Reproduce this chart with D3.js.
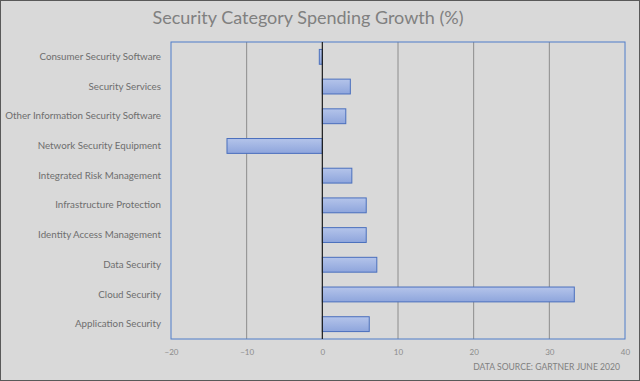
<!DOCTYPE html>
<html><head><meta charset="utf-8">
<script src="https://cdn.jsdelivr.net/npm/d3@7"></script>
<style>html,body{margin:0;padding:0;background:#d9d9d9;}svg{display:block;}</style>
</head><body>
<script>
const categories = ["Consumer Security Software","Security Services","Other Information Security Software","Network Security Equipment","Integrated Risk Management","Infrastructure Protection","Identity Access Management","Data Security","Cloud Security","Application Security"];
const growth = [-0.4, 3.7, 3.1, -12.6, 3.9, 5.8, 5.8, 7.2, 33.3, 6.2];
const xTicks = [-20, -10, 0, 10, 20, 30, 40];
const title = "Security Category Spending Growth (%)";
const source = "DATA SOURCE: GARTNER JUNE 2020";

const W = 640, H = 381;
const m = {left: 171, right: 15, top: 42, bottom: 42};
const svg = d3.select("body").append("svg").attr("width", W).attr("height", H);
const font = "Lato, 'Open Sans', sans-serif";

svg.append("rect").attr("x",0.5).attr("y",0.5).attr("width",W-1).attr("height",H-1)
  .attr("fill","#d9d9d9").attr("stroke","#595959").attr("stroke-width",1);

const defs = svg.append("defs");
const g = defs.append("linearGradient").attr("id","bg").attr("x1",0).attr("y1",0).attr("x2",0).attr("y2",1);
g.append("stop").attr("offset","0%").attr("stop-color","#b4c4ea");
g.append("stop").attr("offset","100%").attr("stop-color","#8ea5dc");

const x = d3.scaleLinear().domain([xTicks[0], xTicks[xTicks.length-1]]).range([m.left, W - m.right]);
const y = d3.scaleBand().domain(categories).range([m.top, H - m.bottom]).paddingInner(0.5).paddingOuter(0.25);

// gridlines
svg.append("g").selectAll("line").data(xTicks.filter(t => t !== 0 && t !== xTicks[0] && t !== xTicks[xTicks.length-1]))
  .join("line").attr("x1", d => x(d)).attr("x2", d => x(d))
  .attr("y1", m.top).attr("y2", H - m.bottom).attr("stroke","#8c8c8c").attr("stroke-width",1);

// plot border
svg.append("rect").attr("x", m.left).attr("y", m.top).attr("width", x.range()[1]-m.left).attr("height", H-m.bottom-m.top)
  .attr("fill","none").attr("stroke","#4f7cc9").attr("stroke-width",1);

// bars
svg.append("g").selectAll("rect").data(categories).join("rect")
  .attr("x", (d,i) => x(Math.min(0, growth[i])))
  .attr("y", d => y(d))
  .attr("width", (d,i) => Math.abs(x(growth[i]) - x(0)))
  .attr("height", y.bandwidth())
  .attr("fill","url(#bg)").attr("stroke","#4a6fbd").attr("stroke-width",1);

// zero line
svg.append("line").attr("x1", x(0)).attr("x2", x(0)).attr("y1", m.top).attr("y2", H - m.bottom)
  .attr("stroke","#1a1a1a").attr("stroke-width",1.2);

// x axis labels
const xAxis = d3.axisBottom(x).tickValues(xTicks).tickSize(0).tickPadding(10);
const xa = svg.append("g").attr("transform", `translate(0,${H - m.bottom})`).call(xAxis);
xa.select(".domain").remove();
xa.selectAll("text").attr("fill","#8c8c8c").attr("font-size","8px").attr("font-family",font);

// y axis labels
const yAxis = d3.axisLeft(y).tickSize(0).tickPadding(10);
const ya = svg.append("g").attr("transform", `translate(${m.left},0)`).call(yAxis);
ya.select(".domain").remove();
ya.selectAll("text").attr("fill","#6e6e6e").attr("font-size","9.75px").attr("font-family",font);

svg.append("text").attr("x", 308).attr("y", 24).attr("text-anchor","middle")
  .attr("font-size","18px").attr("font-family",font).attr("fill","#808080").text(title);

svg.append("text").attr("x", 620).attr("y", 370).attr("text-anchor","end")
  .attr("font-size","8.6px").attr("font-family",font).attr("fill","#808080").text(source);
</script>
</body></html>
